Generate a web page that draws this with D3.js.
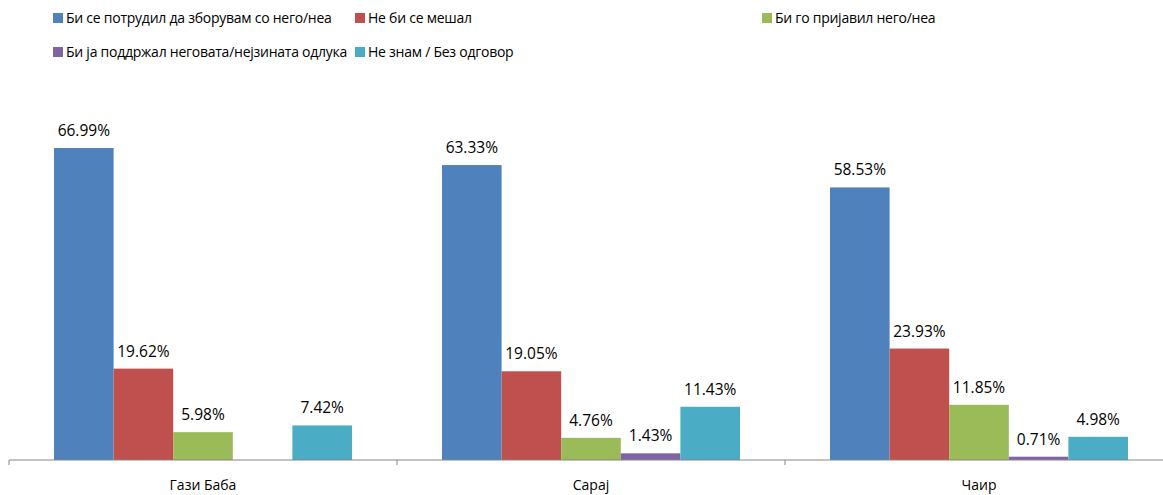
<!DOCTYPE html>
<html>
<head>
<meta charset="utf-8">
<script src="https://cdn.jsdelivr.net/npm/d3@7"></script>
<style>
  body { margin: 0; background: #fff; }
  text { font-family: "Open Sans", "Noto Sans", sans-serif; fill: #000; }
</style>
</head>
<body>
<div id="chart"></div>
<script>
const categories = ['Гази Баба', 'Сарај', 'Чаир'];
const seriesNames = [
  'Би се потрудил да зборувам со него/неа',
  'Не би се мешал',
  'Би го пријавил него/неа',
  'Би ја поддржал неговата/нејзината одлука',
  'Не знам / Без одговор'
];
const colors = ['#4F81BD', '#C0504D', '#9BBB59', '#8064A2', '#4BACC6'];
// values per series, in category order
const talk = [66.99, 63.33, 58.53];
const noMix = [19.62, 19.05, 23.93];
const report = [5.98, 4.76, 11.85];
const support = [null, 1.43, 0.71];
const dontKnow = [7.42, 11.43, 4.98];
const seriesValues = [talk, noMix, report, support, dontKnow];

const width = 1163;
const height = 495;
const baseY = 460;

const svg = d3.select('#chart')
  .append('svg')
  .attr('width', width)
  .attr('height', height);

const x0 = d3.scaleBand()
  .domain(categories)
  .range([9, 1173])
  .padding(0);

const x1 = d3.scaleBand()
  .domain(d3.range(seriesNames.length))
  .range([45, x0.bandwidth() - 45])
  .padding(0);

const y = d3.scaleLinear()
  .domain([0, 70])
  .range([baseY, baseY - 70 * 4.657]);

const groups = svg.selectAll('.group')
  .data(categories)
  .enter()
  .append('g')
  .attr('transform', d => `translate(${x0(d)},0)`);

groups.each(function (cat, ci) {
  const g = d3.select(this);
  const rows = seriesValues
    .map((vals, si) => ({ si: si, v: vals[ci] }))
    .filter(d => d.v !== null);

  g.selectAll('rect')
    .data(rows)
    .enter()
    .append('rect')
    .attr('x', d => x1(d.si))
    .attr('y', d => y(d.v))
    .attr('width', x1.bandwidth())
    .attr('height', d => baseY - y(d.v))
    .attr('fill', d => colors[d.si]);

  g.selectAll('.lbl')
    .data(rows)
    .enter()
    .append('text')
    .attr('class', 'lbl')
    .attr('x', d => x1(d.si) + x1.bandwidth() / 2)
    .attr('y', d => y(d.v) - 12)
    .attr('text-anchor', 'middle')
    .attr('font-size', 15.5)
    .text(d => d.v.toFixed(2) + '%');
});

// category axis
const axis = svg.append('g')
  .attr('transform', `translate(0,${baseY})`);
axis.append('line')
  .attr('x1', 9).attr('x2', width)
  .attr('stroke', '#868686');
axis.selectAll('.tick')
  .data(categories.concat(['end']))
  .enter()
  .append('line')
  .attr('x1', (d, i) => 9 + i * x0.bandwidth())
  .attr('x2', (d, i) => 9 + i * x0.bandwidth())
  .attr('y1', 0).attr('y2', 5)
  .attr('stroke', '#868686');
axis.selectAll('.cat')
  .data(categories)
  .enter()
  .append('text')
  .attr('x', d => x0(d) + x0.bandwidth() / 2)
  .attr('y', 30)
  .attr('text-anchor', 'middle')
  .attr('font-size', 14)
  .text(d => d);

// legend
const legendPos = [[53, 18], [355, 18], [762, 18], [53, 52], [355, 52]];
const legend = svg.selectAll('.legend')
  .data(seriesNames)
  .enter()
  .append('g')
  .attr('transform', (d, i) => `translate(${legendPos[i][0]},${legendPos[i][1]})`);
legend.append('rect')
  .attr('x', 0).attr('y', -5)
  .attr('width', 10).attr('height', 10)
  .attr('fill', (d, i) => colors[i]);
legend.append('text')
  .attr('x', 13)
  .attr('y', 5)
  .attr('font-size', 14)
  .attr('letter-spacing', -0.25)
  .text(d => d);
</script>
</body>
</html>
